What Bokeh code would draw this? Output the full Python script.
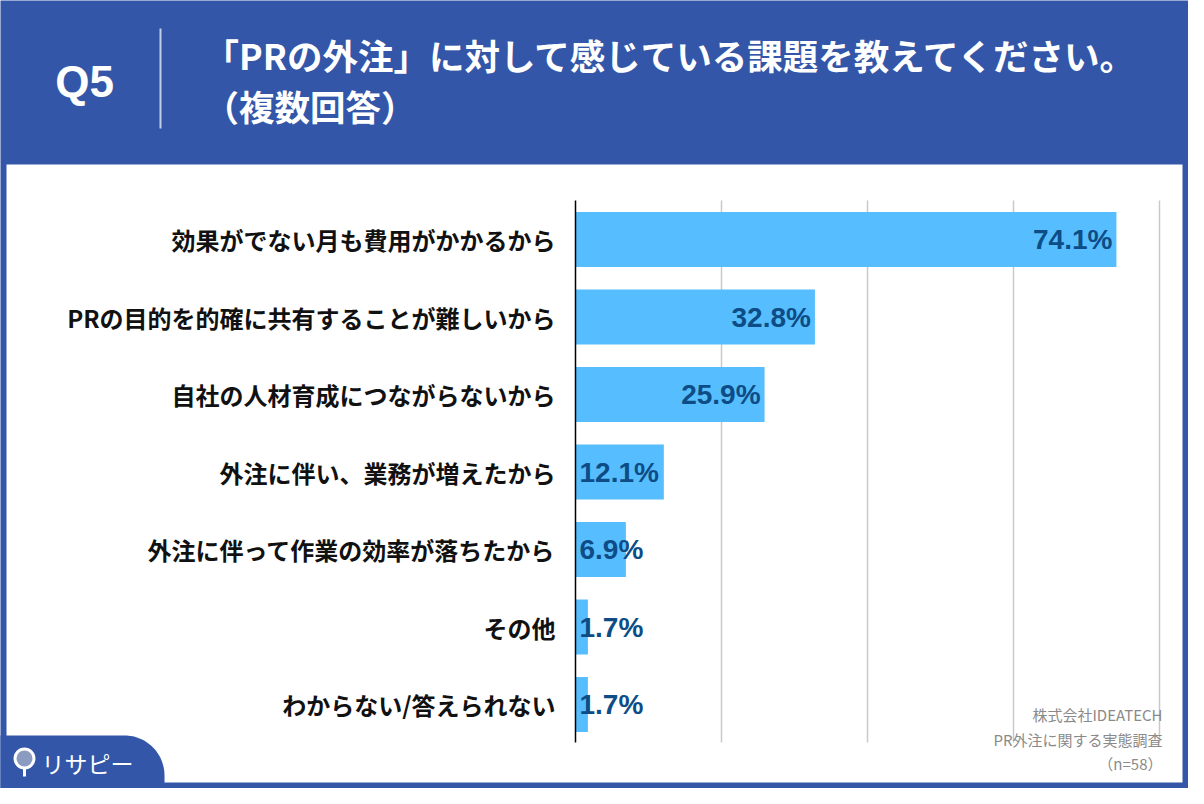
import math
from bokeh.plotting import figure
from bokeh.models import Range1d
from bokeh.core.properties import value
from bokeh.embed import file_html
from bokeh.resources import INLINE

# ---------------- data ----------------
categories = [
    "効果がでない月も費用がかかるから",
    "PRの目的を的確に共有することが難しいから",
    "自社の人材育成につながらないから",
    "外注に伴い、業務が増えたから",
    "外注に伴って作業の効率が落ちたから",
    "その他",
    "わからない/答えられない",
]
values = [74.1, 32.8, 25.9, 12.1, 6.9, 1.7, 1.7]
value_labels = ["74.1%", "32.8%", "25.9%", "12.1%", "6.9%", "1.7%", "1.7%"]
grid_ticks = [20, 40, 60, 80]
question = "Q5"
title_lines = ["「PRの外注」に対して感じている課題を教えてください。", "（複数回答）"]
source_lines = ["株式会社IDEATECH", "PR外注に関する実態調査", "（n=58）"]
brand = "リサピー"

# ---------------- layout helpers (reference pixel -> data) ----------------
W, H = 1188, 788
OFF = 8
ZERO_PX = 583.0
PX_PER_PCT = 7.3
ROW0_PX = 247.0
ROW_PX = 77.5


def dx(px):
    return (px - ZERO_PX) / PX_PER_PCT


def dy(py):
    return (py - ROW0_PX) / ROW_PX


BLUE = "#3356a8"
BAR = "#56befe"
LABEL_BLUE = "#0e4c86"
JP = value("Noto Sans CJK JP")

p = figure(
    width=W, height=H,
    x_range=Range1d(dx(OFF), dx(OFF + W)),
    y_range=Range1d(dy(OFF + H), dy(OFF)),
    x_axis_location=None, y_axis_location=None,
    toolbar_location=None, output_backend="svg",
    min_border=0, outline_line_color=None,
    background_fill_color=BLUE, border_fill_color=BLUE,
)
p.grid.visible = False

# white panel
p.quad(left=dx(14), right=dx(1190), top=dy(172), bottom=dy(790),
       fill_color="white", line_color=None)

# bottom-left brand tab with rounded corner
cx, cy, r = 132.0, 783.0, 40.0
xs = [0, 0]
ys = [800, 743]
for k in range(0, 31):
    a = math.pi / 2 - (math.pi / 2) * k / 30
    xs.append(cx + r * math.cos(a))
    ys.append(cy - r * math.sin(a))
xs += [172, 172]
ys += [790, 800]
p.patch([dx(v) for v in xs], [dy(v) for v in ys], fill_color=BLUE, line_color=None)

# gridlines
p.segment(x0=grid_ticks, x1=grid_ticks, y0=[dy(208)] * len(grid_ticks), y1=[dy(750)] * len(grid_ticks),
          line_color="#c9c9c9", line_width=1.5)

rows = list(range(len(categories)))
p.hbar(y=rows, left=0, right=values, height=0.71, fill_color=BAR, line_color=None)

# axis line
p.segment(x0=[0], x1=[0], y0=[dy(208)], y1=[dy(750)], line_color="black", line_width=1.5)

# category labels
p.text(x=[0] * len(rows), y=rows, text=categories, x_offset=-20,
       text_align="right", text_baseline="middle", text_font=JP,
       text_font_style="bold", text_font_size="24px", text_color="#111111")

# value labels
inside = [i for i in rows if values[i] >= 20]
outside = [i for i in rows if values[i] < 20]
p.text(x=[values[i] for i in inside], y=inside, text=[value_labels[i] for i in inside],
       x_offset=-4, text_align="right", text_baseline="middle",
       text_font=value("Liberation Sans"), text_font_style="bold",
       text_font_size="28px", text_color=LABEL_BLUE)
p.text(x=[0] * len(outside), y=outside, text=[value_labels[i] for i in outside],
       x_offset=4, text_align="left", text_baseline="middle",
       text_font=value("Liberation Sans"), text_font_style="bold",
       text_font_size="28px", text_color=LABEL_BLUE)

# header
p.text(x=[dx(92)], y=[dy(89)], text=[question], text_align="center", text_baseline="middle",
       text_font=value("Liberation Sans"), text_font_style="bold",
       text_font_size="44px", text_color="white")
p.segment(x0=[dx(168)], x1=[dx(168)], y0=[dy(36)], y1=[dy(136)],
          line_color="#c3cce6", line_width=2)
p.text(x=[dx(211), dx(211)], y=[dy(62), dy(113)], text=title_lines,
       text_align="left", text_baseline="middle", text_font=JP,
       text_font_style="bold", text_font_size="35.5px", text_color="white")

# source note
p.text(x=[dx(1170)] * 3, y=[dy(722), dy(747), dy(771)], text=source_lines,
       text_align="right", text_baseline="middle", text_font=JP,
       text_font_size="15px", text_color="#8a8a8a")

# brand logo
p.segment(x0=[dx(32)], x1=[dx(32)], y0=[dy(772)], y1=[dy(784)], line_color="white", line_width=3)
p.scatter(x=[dx(32)], y=[dy(766)], marker="circle", size=19,
          fill_color="#8c9cc0", line_color="white", line_width=3)
p.text(x=[dx(49)], y=[dy(770)], text=[brand], text_align="left", text_baseline="middle",
       text_font=JP, text_font_size="23px", text_color="white")

open("out.html", "w").write(file_html(p, INLINE))
